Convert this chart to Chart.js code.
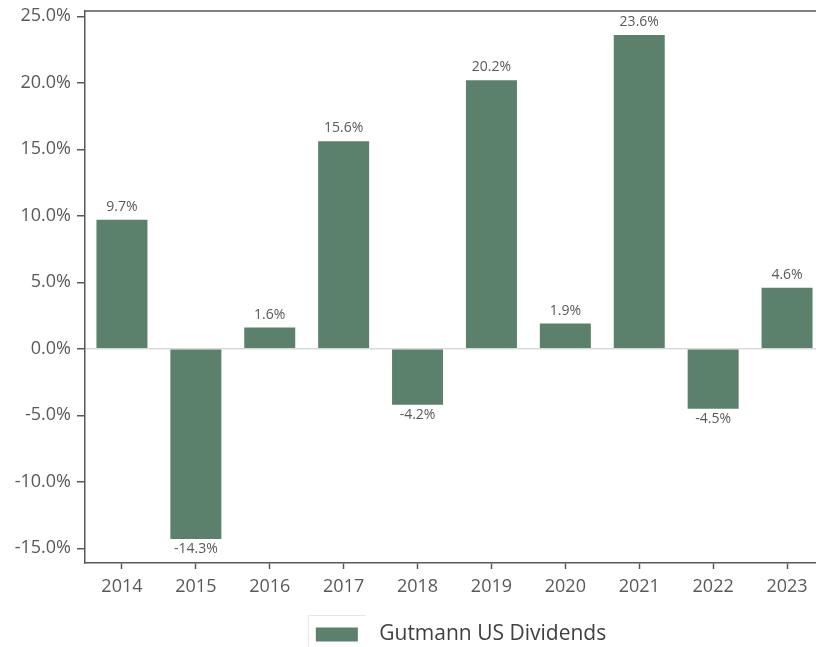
<!DOCTYPE html>
<html>
<head>
<meta charset="utf-8">
<script src="https://cdn.jsdelivr.net/npm/chart.js@4"></script>
<style>
html,body{margin:0;padding:0;background:#fff;overflow:hidden;}
#wrap{position:relative;width:830px;height:647px;}
</style>
</head>
<body>
<div id="wrap"><canvas id="c"></canvas></div>
<script>
const categories = ['2014','2015','2016','2017','2018','2019','2020','2021','2022','2023'];
const seriesName = 'Gutmann US Dividends';
const values = [9.7, -14.3, 1.6, 15.6, -4.2, 20.2, 1.9, 23.6, -4.5, 4.6];
const yTickValues = [-15, -10, -5, 0, 5, 10, 15, 20, 25];
const yMin = -16.1, yMax = 25.4;

const FONT = "'Open Sans', 'Noto Sans', sans-serif";
const BAR = '#5b806b';
const AXIS = '#595959';

const labelPlugin = {
  id: 'barLabels',
  afterDatasetsDraw(chart) {
    const ctx = chart.ctx;
    const meta = chart.getDatasetMeta(0);
    ctx.save();
    ctx.font = "14px " + FONT;
    ctx.fillStyle = '#595959';
    ctx.textAlign = 'center';
    meta.data.forEach((el, i) => {
      const v = values[i];
      const txt = v.toFixed(1) + '%';
      if (v >= 0) {
        ctx.textBaseline = 'bottom';
        ctx.fillText(txt, el.x, el.y - 6);
      } else {
        ctx.textBaseline = 'top';
        ctx.fillText(txt, el.x, el.y + 3);
      }
    });
    ctx.restore();
  }
};

const framePlugin = {
  id: 'frame',
  afterLayout(chart) {
    if (chart.legend) {
      chart.legend.left += 6.5;
      chart.legend.right += 6.5;
    }
  },
  afterDraw(chart) {
    const {ctx, chartArea} = chart;
    ctx.save();
    ctx.strokeStyle = AXIS;
    ctx.lineWidth = 1.5;
    ctx.beginPath();
    ctx.moveTo(chartArea.left - 0.75, chartArea.top);
    ctx.lineTo(chartArea.right + 10, chartArea.top);
    ctx.stroke();
    // faint legend frame
    ctx.strokeStyle = '#e6e6e6';
    ctx.lineWidth = 1;
    ctx.beginPath();
    ctx.moveTo(308.5, 660);
    ctx.lineTo(308.5, 615.5);
    ctx.lineTo(366, 615.5);
    ctx.stroke();
    ctx.restore();
  }
};

new Chart(document.getElementById('c'), {
  type: 'bar',
  data: {
    labels: categories,
    datasets: [{
      label: seriesName,
      data: values,
      backgroundColor: BAR,
      borderWidth: 0,
      categoryPercentage: 1.0,
      barPercentage: 0.69
    }]
  },
  options: {
    responsive: true,
    maintainAspectRatio: false,
    animation: false,
    devicePixelRatio: 1,
    layout: { padding: { top: 11, right: 6, left: 0, bottom: -8 } },
    plugins: {
      tooltip: { enabled: false },
      legend: {
        position: 'bottom',
        fullSize: false,
        labels: {
          boxWidth: 42,
          boxHeight: 14,
          padding: 1,
          color: '#404040',
          font: { family: FONT, size: 21 },
          generateLabels(chart) {
            const ds = chart.data.datasets[0];
            return [{
              text: '  ' + ds.label,
              fillStyle: ds.backgroundColor,
              strokeStyle: ds.backgroundColor,
              lineWidth: 0,
              hidden: false,
              datasetIndex: 0,
              fontColor: '#404040'
            }];
          }
        }
      }
    },
    scales: {
      x: {
        afterFit(scale) { scale.height = 60; scale.paddingLeft = 0; scale.paddingRight = 0; },
        grid: {
          offset: false,
          drawOnChartArea: false,
          drawTicks: true,
          tickLength: 6,
          tickColor: AXIS,
          tickWidth: 1.5
        },
        border: { display: true, color: AXIS, width: 1.5 },
        ticks: {
          color: '#595959',
          padding: 7,
          font: { family: FONT, size: 18 }
        }
      },
      y: {
        min: yMin,
        max: yMax,
        afterFit(scale) { scale.width = 85; scale.paddingTop = 0; scale.paddingBottom = 0; },
        afterBuildTicks(scale) {
          scale.ticks = yTickValues.map(v => ({ value: v }));
        },
        grid: {
          drawTicks: true,
          tickLength: 8,
          tickColor: AXIS,
          tickWidth: 1.5,
          lineWidth: 1.5,
          color: (ctx) => (ctx.tick && ctx.tick.value === 0) ? '#d9d9d9' : 'rgba(0,0,0,0)'
        },
        border: { display: true, color: AXIS, width: 1.5 },
        ticks: {
          color: '#595959',
          padding: 6,
          font: { family: FONT, size: 18 },
          callback: (v) => Number(v).toFixed(1) + '%'
        }
      }
    }
  },
  plugins: [labelPlugin, framePlugin]
});
</script>
</body>
</html>
